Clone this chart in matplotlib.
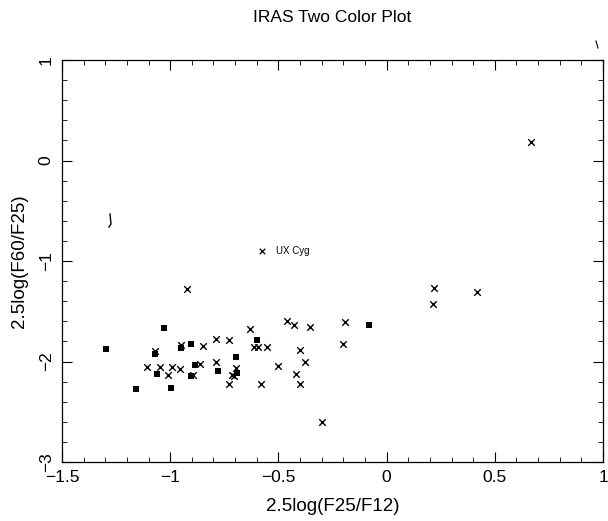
import matplotlib
matplotlib.use("Agg")
import matplotlib.pyplot as plt
from matplotlib.ticker import MultipleLocator
from matplotlib.lines import Line2D

plt.rcParams['font.family'] = ['Liberation Sans', 'DejaVu Sans']

# crosses (x = 2.5log(F25/F12), y = 2.5log(F60/F25))
cross_x = [-0.95, -1.072, -1.109, -1.048, -0.990, -0.953, -1.011, -0.893,
           -0.849, -0.79, -0.73, -0.633, -0.613, -0.595, -0.551, -0.461,
           -0.861, -0.79, -0.695, -0.715, -0.707, -0.729, -0.582, -0.502,
           -0.43, -0.353, -0.19, -0.20, -0.402, -0.379, -0.42, -0.399,
           0.217, 0.417, 0.216, -0.299, 0.669, -0.923]
cross_y = [-1.84, -1.90, -2.05, -2.05, -2.05, -2.07, -2.13, -2.13,
           -1.85, -1.78, -1.79, -1.68, -1.86, -1.86, -1.86, -1.60,
           -2.02, -2.00, -2.06, -2.13, -2.14, -2.22, -2.22, -2.04,
           -1.64, -1.66, -1.61, -1.83, -1.89, -2.00, -2.12, -2.22,
           -1.27, -1.31, -1.43, -2.60, 0.18, -1.28]

# filled squares
square_x = [-1.298, -1.029, -1.158, -0.994, -0.95, -0.906, -1.072, -1.060,
            -0.906, -0.884, -0.698, -0.778, -0.690, -0.598, -0.083]
square_y = [-1.88, -1.67, -2.27, -2.26, -1.87, -1.83, -1.93, -2.12,
            -2.14, -2.03, -1.96, -2.09, -2.11, -1.79, -1.64]

# labelled source
ux_x = -0.574
ux_y = -0.90
ux_label = "UX Cyg"

xticks = [-1.5, -1, -0.5, 0, 0.5, 1]
xticklabels = ["\u22121.5", "\u22121", "\u22120.5", "0", "0.5", "1"]
yticks = [-3, -2, -1, 0, 1]
yticklabels = ["\u22123", "\u22122", "\u22121", "0", "1"]

fig = plt.figure(figsize=(6.08, 5.21), dpi=100)
ax = fig.add_axes([62/608, 1 - 462/521, (603-62)/608, (462-60)/521])

ax.scatter(square_x, square_y, marker='s', s=22, c='black', linewidths=0, zorder=3)
ax.scatter(cross_x, cross_y, marker='x', s=22, c='black', linewidths=1.0, zorder=4)
ax.scatter([ux_x], [ux_y], marker='x', s=16, c='black', linewidths=0.9, zorder=4)
ax.text(ux_x + 0.065, ux_y, ux_label, fontsize=7, va='center', ha='left')

ax.set_xlim(-1.5, 1)
ax.set_ylim(-3, 1)
ax.set_xticks(xticks)
ax.set_xticklabels(xticklabels)
ax.set_yticks(yticks)
ax.set_yticklabels(yticklabels, rotation=90, va='center')
ax.xaxis.set_minor_locator(MultipleLocator(0.1))
ax.yaxis.set_minor_locator(MultipleLocator(0.2))
ax.tick_params(which='both', direction='in', top=True, right=True, labelsize=12.5)
ax.tick_params(which='major', length=7, width=0.8)
ax.tick_params(which='minor', length=3.5, width=0.6)
ax.tick_params(axis='x', pad=6)
ax.tick_params(axis='y', pad=6)
for s in ax.spines.values():
    s.set_linewidth(0.9)

ax.set_xlabel("2.5log(F25/F12)", fontsize=13.5, labelpad=9)
ax.set_ylabel("2.5log(F60/F25)", fontsize=13.5, labelpad=8)
fig.text(332/608, 1 - 18/521, "IRAS Two Color Plot", fontsize=12.5,
         ha='center', va='center')

# small stray scan marks present in the reference
fig.add_artist(Line2D([110/608, 111/608, 109/608], [1 - 214/521, 1 - 224/521, 1 - 227/521],
                      color='black', lw=1.0))
fig.add_artist(Line2D([596/608, 598/608], [1 - 41/521, 1 - 48/521], color='black', lw=0.8))

fig.savefig("out.png", dpi=100)
